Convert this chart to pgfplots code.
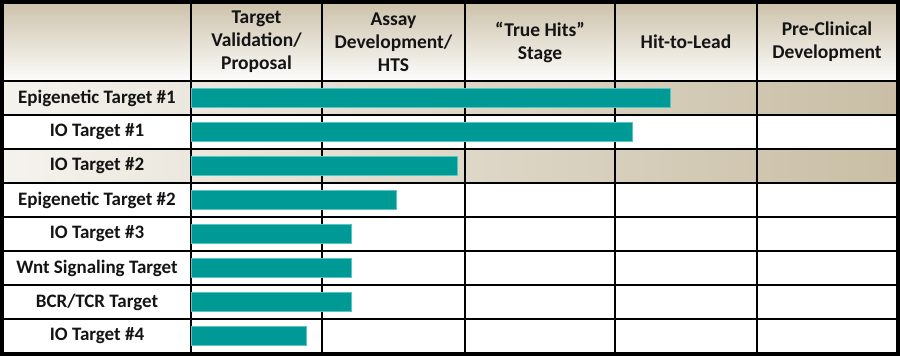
\documentclass[border=0pt]{standalone}
\usepackage{fontspec}
\setmainfont{Carlito}
\usepackage{pgfplots}
\pgfplotsset{compat=1.18}
\definecolor{tealbar}{HTML}{009A96}
\definecolor{tealedge}{HTML}{5CC4C0}
\definecolor{beigeD}{HTML}{C9BEA5}
\definecolor{beigeL}{HTML}{F5F3EE}
\definecolor{hdrD}{HTML}{CBC0A8}
\definecolor{txt}{HTML}{141414}
\begin{document}
\begin{tikzpicture}
\begin{axis}[
  x=1pt, y=1pt, y dir=reverse,
  xmin=-191, xmax=709, ymin=0, ymax=356,
  axis lines=none, clip=false,
  xtick=\empty, ytick=\empty,
  xbar, bar width=19pt,
]
% backgrounds
\fill[top color=hdrD, bottom color=white!97!hdrD] (axis cs:-191,0) rectangle (axis cs:709,81);
\fill[left color=beigeL, right color=beigeD] (axis cs:-191,81) rectangle (axis cs:709,115);
\fill[left color=beigeL, right color=beigeD] (axis cs:-191,149) rectangle (axis cs:709,183);
% grid
\draw[line width=2pt, black] (axis cs:-191,81) -- (axis cs:709,81)
  (axis cs:-191,115) -- (axis cs:709,115)
  (axis cs:-191,149) -- (axis cs:709,149)
  (axis cs:-191,183) -- (axis cs:709,183)
  (axis cs:-191,217) -- (axis cs:709,217)
  (axis cs:-191,251) -- (axis cs:709,251)
  (axis cs:-191,285) -- (axis cs:709,285)
  (axis cs:-191,319) -- (axis cs:709,319);
\draw[line width=2pt, black] (axis cs:0,0) -- (axis cs:0,356)
  (axis cs:131,0) -- (axis cs:131,356)
  (axis cs:274,0) -- (axis cs:274,356)
  (axis cs:424,0) -- (axis cs:424,356)
  (axis cs:566,0) -- (axis cs:566,356);
% bars (length from start of first stage column, in px)
\addplot[fill=tealbar, draw=tealedge, line width=0.6pt] coordinates {
  (479,97.5) (441,131.5) (266,165.5) (205,199.5) (160,233.5) (160,267.5) (160,301.5) (115,335.5)};
% outer frame
\draw[line width=4pt, black] (axis cs:-189,2) rectangle (axis cs:707,354);
% header text
\begin{scope}[every node/.style={font=\bfseries\fontsize{19.5}{23}\selectfont, align=center, text=txt, inner sep=0pt}]
\node at (axis cs:65.5,42) {Target\\Validation/\\Proposal};
\node at (axis cs:202.5,42) {Assay\\Development/\\HTS};
\node at (axis cs:349,42) {“True Hits”\\Stage};
\node at (axis cs:495,42) {Hit-to-Lead};
\node at (axis cs:636,42) {Pre-Clinical\\Development};
\end{scope}
\begin{scope}[every node/.style={font=\bfseries\fontsize{19}{23}\selectfont, align=center, text=txt, inner sep=0pt}]
\node at (axis cs:-94,98) {Epigenetic Target \#1};
\node at (axis cs:-94,132) {IO Target \#1};
\node at (axis cs:-94,166) {IO Target \#2};
\node at (axis cs:-94,200) {Epigenetic Target \#2};
\node at (axis cs:-94,234) {IO Target \#3};
\node at (axis cs:-94,268) {Wnt Signaling Target};
\node at (axis cs:-94,302) {BCR/TCR Target};
\node at (axis cs:-94,336) {IO Target \#4};
\end{scope}
\coordinate (SW) at (axis cs:-191,356);
\coordinate (NE) at (axis cs:709,0);
\end{axis}
\pgfresetboundingbox
\useasboundingbox (SW) rectangle (NE);
\end{tikzpicture}
\end{document}
